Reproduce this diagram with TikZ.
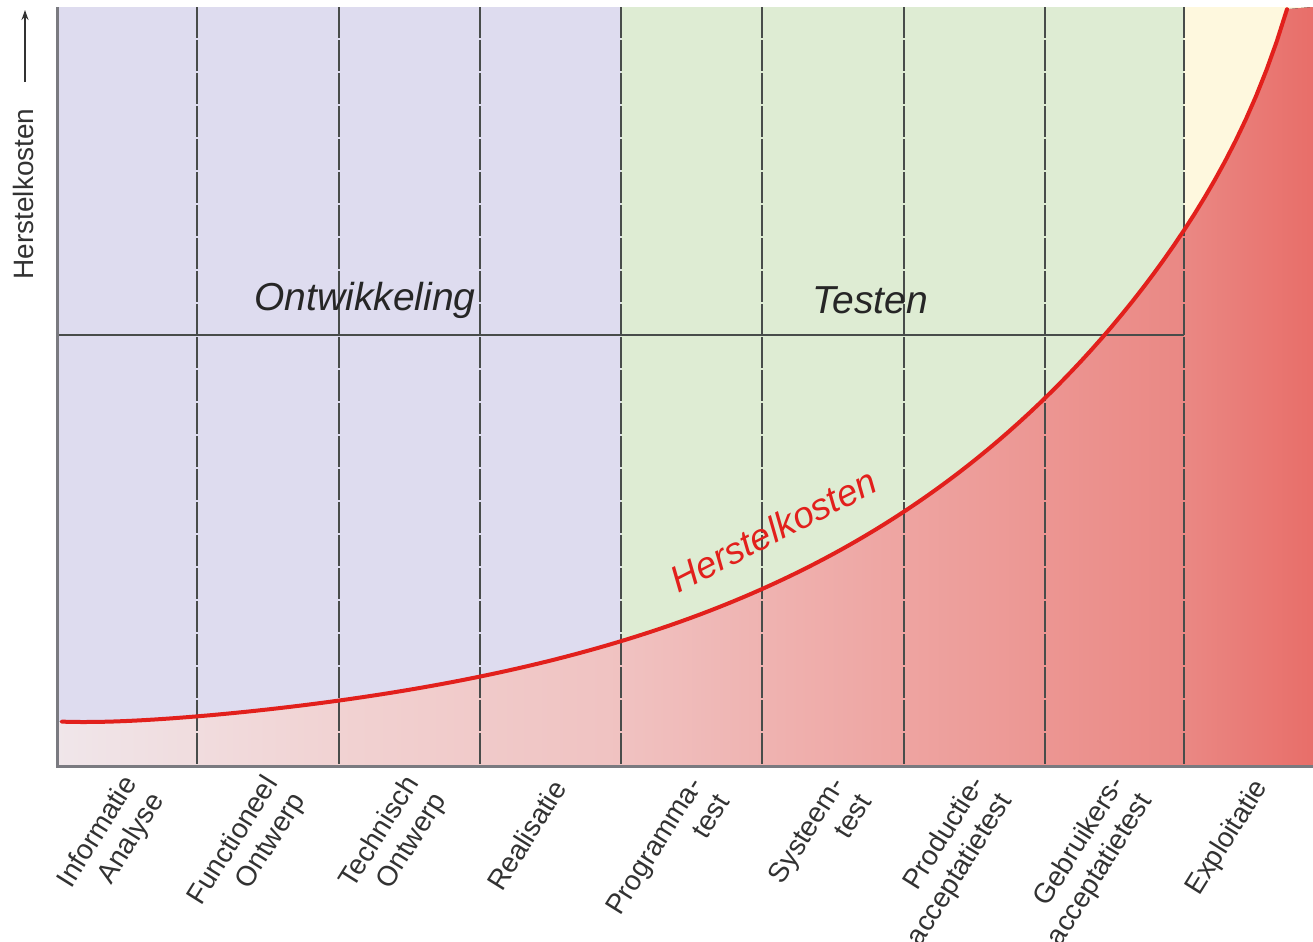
\documentclass[tikz,border=0pt]{standalone}
\usepackage{fontspec}
\setmainfont{Liberation Sans}
\usetikzlibrary{arrows.meta}
\definecolor{lav}{RGB}{222,220,239}
\definecolor{grn}{RGB}{222,236,211}
\definecolor{crm}{RGB}{254,248,222}
\definecolor{axgray}{RGB}{122,122,128}
\definecolor{dashc}{RGB}{72,76,74}
\definecolor{labgray}{RGB}{50,50,50}
\definecolor{curvered}{RGB}{226,32,28}
\definecolor{r0}{RGB}{240,230,234}
\definecolor{r1}{RGB}{241,210,210}
\definecolor{r2}{RGB}{240,194,193}
\definecolor{r3}{RGB}{238,164,161}
\definecolor{r4}{RGB}{234,136,132}
\definecolor{r5}{RGB}{232,110,105}
\begin{document}
\begin{tikzpicture}[x=0.5pt,y=-0.5pt,
  lab/.style={font=\fontsize{14pt}{16pt}\selectfont, text=labgray, rotate=58, anchor=east, align=right, inner sep=0pt},
  phase/.style={font=\itshape\fontsize{19.5pt}{22pt}\selectfont, text=black!85, inner sep=0pt},
  divider/.style={draw=dashc, line width=1pt, dash pattern=on 15.5pt off 1pt},
  axisline/.style={draw=axgray, line width=1.5pt},
  declare function={hk(\t)=766-(14.6+34.4*exp(0.00275*(\t-197))+3.7*exp(0.0263*(\t-1184))+6*exp(-(\t-62)/60));}]
\useasboundingbox (0,0) rectangle (1313,942);
% backgrounds
\fill[lav] (57,7) rectangle (621,766);
\fill[grn] (621,7) rectangle (1184,766);
\fill[crm] (1184,7) rectangle (1313,766);
% red gradient under the curve
\begin{scope}
\clip (57,766) -- (57,{hk(62)}) -- plot[domain=62:1287, samples=120] (\x,{hk(\x)}) -- (1313,7) -- (1313,766) -- cycle;
\fill[left color=r0, right color=r1] (56,0) rectangle (339,770);
\fill[left color=r1, right color=r2] (338.5,0) rectangle (621,770);
\fill[left color=r2, right color=r3] (620.5,0) rectangle (904,770);
\fill[left color=r3, right color=r4] (903.5,0) rectangle (1184,770);
\fill[left color=r4, right color=r5] (1183.5,0) rectangle (1314,770);
\end{scope}
% dividers
\foreach \xx/\nm in {197/d1,339/d2,480/d3,621/d4,762/d5,904/d6,1045/d7,1184/d8}{
  \coordinate (\nm t) at (\xx,7);
  \coordinate (\nm b) at (\xx,766);
  \draw[divider] (\nm t) -- (\nm b);
}
% phase line
\coordinate (hl) at (57,335);
\coordinate (hr) at (1184,335);
\draw[draw=dashc, line width=1.1pt] (hl) -- (hr);
% axes
\coordinate (o) at (57,766);
\coordinate (ytop) at (57,7);
\coordinate (xend) at (1313,766);
\draw[axisline] (ytop) -- (o) -- (xend);
% curve
\draw[curvered, line width=2pt, line cap=round] plot[domain=62:1287, samples=120] (\x,{hk(\x)});
% y axis label + arrow
\node[font=\fontsize{14pt}{16pt}\selectfont, text=labgray, rotate=90, inner sep=0pt] (ylab) at (23,194) {Herstelkosten};
\coordinate (ab) at (25,82);
\coordinate (at) at (25,10);
\draw[labgray, line width=0.8pt, -{Stealth[length=5pt,width=3.5pt]}] (ab) -- (at);
% phase names
\node[phase] (ontw) at (365,300) {Ontwikkeling};
\node[phase] (test) at (870,300) {Testen};
\node[font=\itshape\fontsize{18.5pt}{20pt}\selectfont, text=curvered, rotate=27, inner sep=0pt] (hk) at (773,530) {Herstelkosten};
% bottom labels
\node[lab] (l1) at (145,788) {Informatie\\Analyse};
\node[lab] (l2) at (286,788) {Functioneel\\Ontwerp};
\node[lab] (l3) at (427,788) {Technisch\\Ontwerp};
\node[lab] (l4) at (559,783) {Realisatie};
\node[lab] (l5) at (709,788) {Programma-\\test};
\node[lab] (l6) at (851,788) {Systeem-\\test};
\node[lab] (l7) at (993,788) {Productie-\\acceptatietest};
\node[lab] (l8) at (1133,788) {Gebruikers-\\acceptatietest};
\node[lab] (l9) at (1262,783) {Exploitatie};
\end{tikzpicture}
\end{document}
